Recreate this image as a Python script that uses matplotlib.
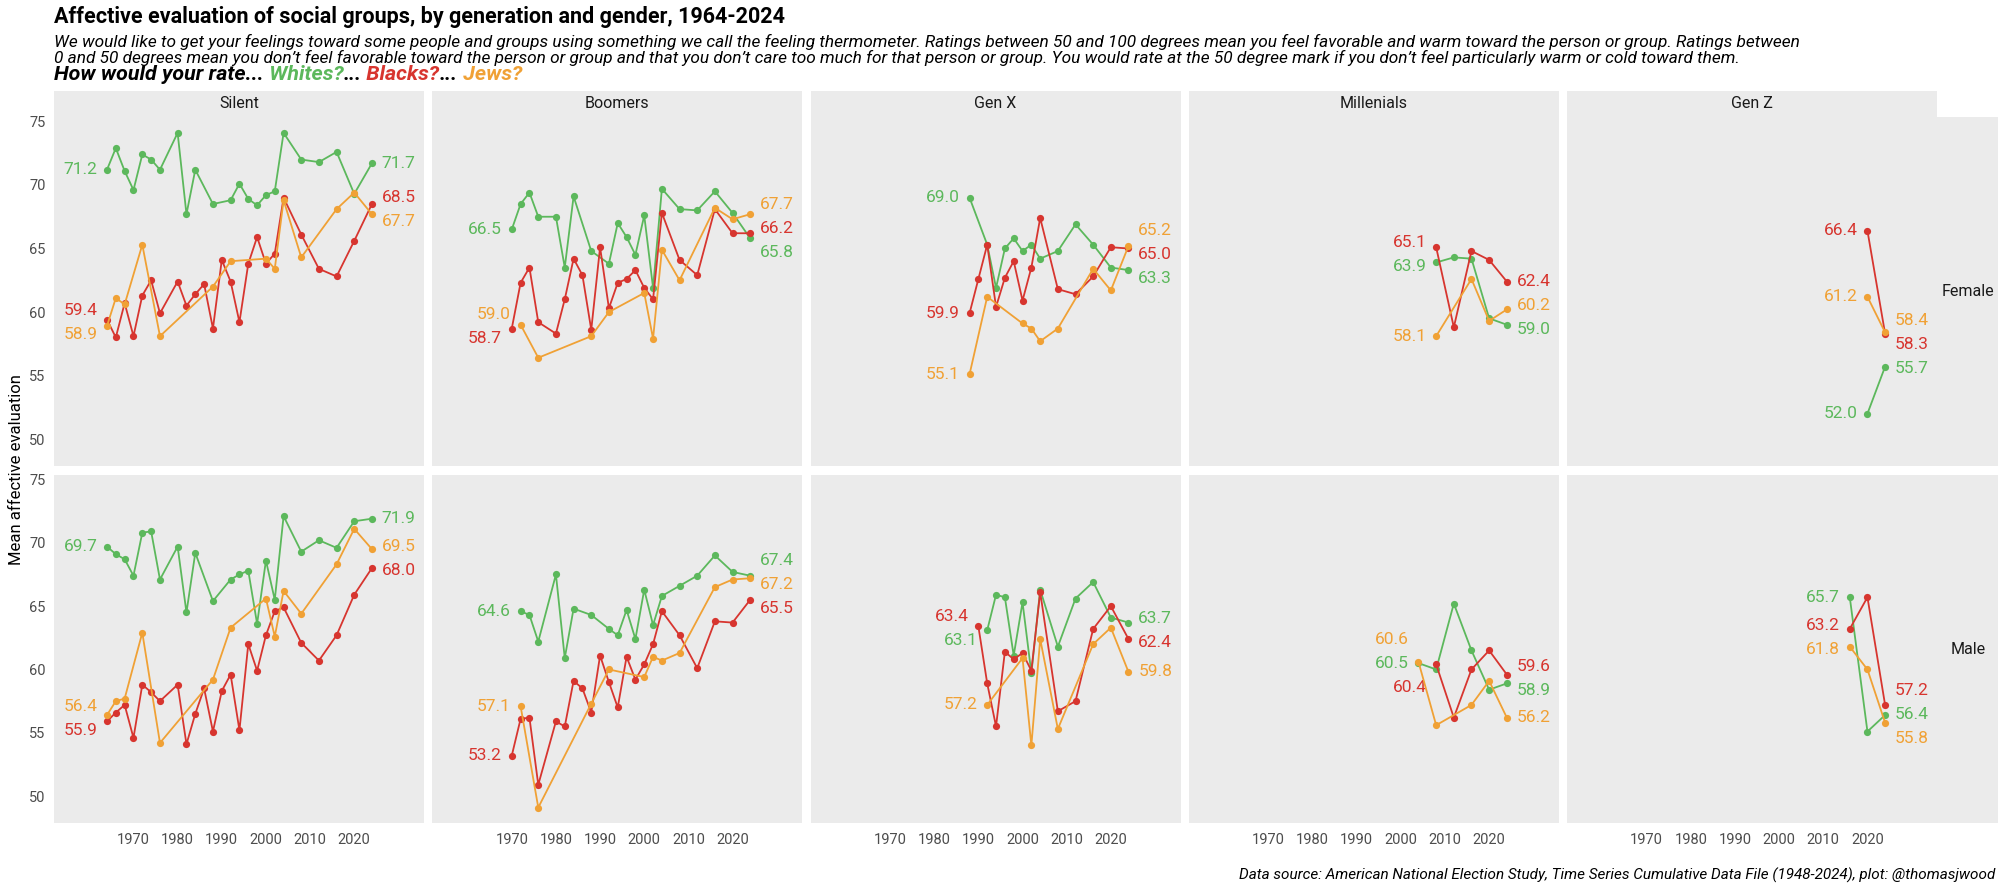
import matplotlib
matplotlib.use("Agg")
import matplotlib.pyplot as plt
from matplotlib.patches import Rectangle

plt.rcParams['font.family'] = ["Roboto", "DejaVu Sans"]

# ---------------- data ----------------
generations = ["Silent", "Boomers", "Gen X", "Millenials", "Gen Z"]
genders = ["Female", "Male"]
groups = ["Whites", "Blacks", "Jews"]
group_colors = ["#5cb85c", "#d7352f", "#f0a135"]
x_ticks = [1970, 1980, 1990, 2000, 2010, 2020]
y_ticks = [50, 55, 60, 65, 70, 75]

# Silent
silent_w_years = [1964, 1966, 1968, 1970, 1972, 1974, 1976, 1980, 1982, 1984, 1988, 1992,
                  1994, 1996, 1998, 2000, 2002, 2004, 2008, 2012, 2016, 2020, 2024]
silent_b_years = [1964, 1966, 1968, 1970, 1972, 1974, 1976, 1980, 1982, 1984, 1986, 1988, 1990,
                  1992, 1994, 1996, 1998, 2000, 2002, 2004, 2008, 2012, 2016, 2020, 2024]
silent_j_years = [1964, 1966, 1968, 1972, 1976, 1988, 1992, 2000, 2002, 2004, 2008, 2016, 2020, 2024]
silent_f_whites = [71.2, 72.9, 71.1, 69.6, 72.4, 72.0, 71.2, 74.1, 67.7, 71.2, 68.5, 68.8,
                   70.1, 68.9, 68.4, 69.2, 69.5, 74.1, 72.0, 71.8, 72.6, 69.3, 71.7]
silent_f_blacks = [59.4, 58.0, 60.7, 58.1, 61.3, 62.5, 59.9, 62.4, 60.5, 61.4, 62.2, 58.7, 64.1,
                   62.4, 59.2, 63.8, 65.9, 63.8, 64.6, 69.0, 66.1, 63.4, 62.8, 65.6, 68.5]
silent_f_jews = [58.9, 61.1, 60.6, 65.3, 58.1, 62.0, 64.0, 64.2, 63.4, 68.8, 64.3, 68.1, 69.4, 67.7]
silent_m_whites = [69.7, 69.1, 68.7, 67.4, 70.8, 70.9, 67.1, 69.7, 64.5, 69.2, 65.4, 67.1,
                   67.5, 67.8, 63.6, 68.6, 65.5, 72.1, 69.3, 70.2, 69.6, 71.7, 71.9]
silent_m_blacks = [55.9, 56.6, 57.2, 54.6, 58.8, 58.2, 57.5, 58.8, 54.1, 56.5, 58.5, 55.1, 58.3,
                   59.6, 55.2, 62.0, 59.9, 62.7, 64.6, 64.9, 62.1, 60.7, 62.7, 65.9, 68.0]
silent_m_jews = [56.4, 57.5, 57.7, 62.9, 54.2, 59.2, 63.3, 65.6, 62.6, 66.2, 64.4, 68.3, 71.1, 69.5]

# Boomers
boomers_f_w_years = [1970, 1972, 1974, 1976, 1980, 1982, 1984, 1988, 1992, 1994, 1996, 1998,
                     2000, 2002, 2004, 2008, 2012, 2016, 2020, 2024]
boomers_m_w_years = [1972, 1974, 1976, 1980, 1982, 1984, 1988, 1992, 1994, 1996, 1998,
                     2000, 2002, 2004, 2008, 2012, 2016, 2020, 2024]
boomers_b_years = [1970, 1972, 1974, 1976, 1980, 1982, 1984, 1986, 1988, 1990, 1992, 1994,
                   1996, 1998, 2000, 2002, 2004, 2008, 2012, 2016, 2020, 2024]
boomers_j_years = [1972, 1976, 1988, 1992, 2000, 2002, 2004, 2008, 2016, 2020, 2024]
boomers_f_whites = [66.5, 68.5, 69.4, 67.5, 67.5, 63.5, 69.1, 64.8, 63.8, 67.0, 65.9, 64.5,
                    67.6, 61.9, 69.7, 68.1, 68.0, 69.5, 67.8, 65.8]
boomers_f_blacks = [58.7, 62.3, 63.5, 59.2, 58.3, 61.0, 64.2, 62.9, 58.6, 65.1, 60.3, 62.3,
                    62.6, 63.3, 61.9, 61.0, 67.8, 64.1, 62.9, 68.1, 66.2, 66.2]
boomers_f_jews = [59.0, 56.4, 58.1, 60.0, 61.5, 57.9, 64.9, 62.5, 68.2, 67.3, 67.7]
boomers_m_whites = [64.6, 64.3, 62.2, 67.5, 60.9, 64.8, 64.3, 63.2, 62.7, 64.7, 62.4,
                    66.3, 63.5, 65.8, 66.6, 67.4, 69.0, 67.7, 67.4]
boomers_m_blacks = [53.2, 56.1, 56.2, 50.9, 55.9, 55.5, 59.1, 58.5, 56.6, 61.1, 59.0, 57.0,
                    61.0, 59.2, 60.4, 62.0, 64.6, 62.7, 60.1, 63.8, 63.7, 65.5]
boomers_m_jews = [57.1, 49.1, 57.3, 60.0, 59.4, 61.0, 60.7, 61.3, 66.5, 67.1, 67.2]

# Gen X
genx_f_w_years = [1988, 1992, 1994, 1996, 1998, 2000, 2002, 2004, 2008, 2012, 2016, 2020, 2024]
genx_f_b_years = [1988, 1990, 1992, 1994, 1996, 1998, 2000, 2002, 2004, 2008, 2012, 2016, 2020, 2024]
genx_f_j_years = [1988, 1992, 2000, 2002, 2004, 2008, 2016, 2020, 2024]
genx_m_w_years = [1992, 1994, 1996, 1998, 2000, 2002, 2004, 2008, 2012, 2016, 2020, 2024]
genx_m_b_years = [1990, 1992, 1994, 1996, 1998, 2000, 2002, 2004, 2008, 2012, 2016, 2020, 2024]
genx_m_j_years = [1992, 2000, 2002, 2004, 2008, 2016, 2020, 2024]
genx_f_whites = [69.0, 65.3, 61.9, 65.0, 65.8, 64.8, 65.3, 64.2, 64.8, 66.9, 65.3, 63.5, 63.3]
genx_f_blacks = [59.9, 62.6, 65.3, 60.4, 62.7, 64.0, 60.9, 63.5, 67.4, 61.8, 61.4, 62.8, 65.1, 65.0]
genx_f_jews = [55.1, 61.2, 59.1, 58.7, 57.7, 58.7, 63.4, 61.7, 65.2]
genx_m_whites = [63.1, 65.9, 65.7, 61.1, 65.3, 59.7, 66.3, 61.8, 65.6, 66.9, 64.1, 63.7]
genx_m_blacks = [63.4, 58.9, 55.5, 61.4, 60.8, 61.3, 59.9, 66.1, 56.7, 57.5, 63.2, 65.0, 62.4]
genx_m_jews = [57.2, 60.9, 54.0, 62.4, 55.3, 62.0, 63.3, 59.8]

# Millenials
mill_f_wb_years = [2008, 2012, 2016, 2020, 2024]
mill_f_j_years = [2008, 2016, 2020, 2024]
mill_m_w_years = [2004, 2008, 2012, 2016, 2020, 2024]
mill_m_b_years = [2008, 2012, 2016, 2020, 2024]
mill_m_j_years = [2004, 2008, 2016, 2020, 2024]
mill_f_whites = [63.9, 64.3, 64.2, 59.5, 59.0]
mill_f_blacks = [65.1, 58.8, 64.8, 64.1, 62.4]
mill_f_jews = [58.1, 62.6, 59.3, 60.2]
mill_m_whites = [60.5, 60.0, 65.2, 61.5, 58.4, 58.9]
mill_m_blacks = [60.4, 56.2, 60.0, 61.5, 59.6]
mill_m_jews = [60.6, 55.6, 57.2, 59.1, 56.2]

# Gen Z
genz_f_years = [2020, 2024]
genz_m_years = [2016, 2020, 2024]
genz_f_whites = [52.0, 55.7]
genz_f_blacks = [66.4, 58.3]
genz_f_jews = [61.2, 58.4]
genz_m_whites = [65.7, 55.1, 56.4]
genz_m_blacks = [63.2, 65.7, 57.2]
genz_m_jews = [61.8, 60.0, 55.8]

series = {
    ("Silent", "Female"): [(silent_w_years, silent_f_whites), (silent_b_years, silent_f_blacks), (silent_j_years, silent_f_jews)],
    ("Silent", "Male"): [(silent_w_years, silent_m_whites), (silent_b_years, silent_m_blacks), (silent_j_years, silent_m_jews)],
    ("Boomers", "Female"): [(boomers_f_w_years, boomers_f_whites), (boomers_b_years, boomers_f_blacks), (boomers_j_years, boomers_f_jews)],
    ("Boomers", "Male"): [(boomers_m_w_years, boomers_m_whites), (boomers_b_years, boomers_m_blacks), (boomers_j_years, boomers_m_jews)],
    ("Gen X", "Female"): [(genx_f_w_years, genx_f_whites), (genx_f_b_years, genx_f_blacks), (genx_f_j_years, genx_f_jews)],
    ("Gen X", "Male"): [(genx_m_w_years, genx_m_whites), (genx_m_b_years, genx_m_blacks), (genx_m_j_years, genx_m_jews)],
    ("Millenials", "Female"): [(mill_f_wb_years, mill_f_whites), (mill_f_wb_years, mill_f_blacks), (mill_f_j_years, mill_f_jews)],
    ("Millenials", "Male"): [(mill_m_w_years, mill_m_whites), (mill_m_b_years, mill_m_blacks), (mill_m_j_years, mill_m_jews)],
    ("Gen Z", "Female"): [(genz_f_years, genz_f_whites), (genz_f_years, genz_f_blacks), (genz_f_years, genz_f_jews)],
    ("Gen Z", "Male"): [(genz_m_years, genz_m_whites), (genz_m_years, genz_m_blacks), (genz_m_years, genz_m_jews)],
}

title = "Affective evaluation of social groups, by generation and gender, 1964-2024"
subtitle1 = ("We would like to get your feelings toward some people and groups using something we call the "
             "feeling thermometer. Ratings between 50 and 100 degrees mean you feel favorable and warm toward "
             "the person or group. Ratings between")
subtitle2 = ("0 and 50 degrees mean you don\u2019t feel favorable toward the person or group and that you don\u2019t "
             "care too much for that person or group. You would rate at the 50 degree mark if you don\u2019t feel "
             "particularly warm or cold toward them.")
question = [("How would your rate...", "#000000"), (" Whites?", group_colors[0]), ("...", "#000000"),
            (" Blacks?", group_colors[1]), ("...", "#000000"), (" Jews?", group_colors[2])]
caption = "Data source: American National Election Study, Time Series Cumulative Data File (1948-2024), plot: @thomasjwood"
ylabel = "Mean affective evaluation"


def repel(vals, gap=1.9):
    idx = sorted(range(len(vals)), key=lambda i: vals[i])
    y = [vals[i] for i in idx]
    for _ in range(200):
        moved = False
        for k in range(len(y) - 1):
            d = y[k + 1] - y[k]
            if d < gap - 1e-9:
                s = (gap - d) / 2
                y[k] -= s
                y[k + 1] += s
                moved = True
        if not moved:
            break
    out = [0.0] * len(vals)
    for k, i in enumerate(idx):
        out[i] = y[k]
    return out


# ---------------- layout ----------------
W, H = 2000, 886
fig = plt.figure(figsize=(W / 100, H / 100), dpi=100)
BG = "#ebebeb"
col_left = [54 + i * 378.3 for i in range(5)]
panel_w = 370
rows = [(117, 466), (475, 823)]
XLIM = (1952, 2035.8)
YLIM = (47.88, 75.35)

for r, gender in enumerate(genders):
    top, bot = rows[r]
    ph = bot - top
    for c, gen in enumerate(generations):
        ax = fig.add_axes([col_left[c] / W, 1 - bot / H, panel_w / W, ph / H])
        ax.set_facecolor(BG)
        for s in ax.spines.values():
            s.set_visible(False)
        ax.set_xlim(*XLIM)
        ax.set_ylim(*YLIM)
        ax.set_xticks(x_ticks)
        ax.set_yticks(y_ticks)
        ax.tick_params(length=0, labelsize=10.5, labelcolor="#4d4d4d", pad=6)
        ax.tick_params(axis="x", pad=7)
        if c != 0:
            ax.set_yticklabels([])
        if r != 1:
            ax.set_xticklabels([])

        data = series[(gen, gender)]
        for g, (yrs, vals) in enumerate(data):
            ax.plot(yrs, vals, color=group_colors[g], lw=1.3, marker="o", ms=5.2,
                    mew=0, zorder=3 + g)
        # labels
        left_y = repel([d[1][0] for d in data])
        right_y = repel([d[1][-1] for d in data])
        for g, (yrs, vals) in enumerate(data):
            ax.text(yrs[0] - 2.2, left_y[g], f"{vals[0]:.1f}", ha="right", va="center",
                    color=group_colors[g], fontsize=12.5)
            ax.text(yrs[-1] + 2.2, right_y[g], f"{vals[-1]:.1f}", ha="left", va="center",
                    color=group_colors[g], fontsize=12.5)

        if r == 0:
            sh = 26 / ph
            ax.add_patch(Rectangle((0, 1), 1, sh, transform=ax.transAxes, clip_on=False,
                                   facecolor=BG, lw=0))
            ax.text(0.5, 1 + sh / 2, gen, transform=ax.transAxes, ha="center", va="center",
                    fontsize=11.5, color="#1a1a1a")
        if c == 4:
            sw = 61 / panel_w
            ax.add_patch(Rectangle((1, 0), sw, 1, transform=ax.transAxes, clip_on=False,
                                   facecolor=BG, lw=0))
            ax.text(1 + sw / 2, 0.5, gender, transform=ax.transAxes, ha="center", va="center",
                    fontsize=11.5, color="#1a1a1a")

# titles
fig.text(54 / W, 1 - 22.5 / H, title, fontsize=15.5, fontweight="bold", va="baseline", ha="left")
fig.text(54 / W, 1 - 46.5 / H, subtitle1, fontsize=12.4, fontstyle="italic", va="baseline", ha="left")
fig.text(54 / W, 1 - 62.5 / H, subtitle2, fontsize=12.4, fontstyle="italic", va="baseline", ha="left")
renderer = fig.canvas.get_renderer()
x = 54
for s, col in question:
    t = fig.text(x / W, 1 - 80.5 / H, s, fontsize=15.4, fontweight="bold", fontstyle="italic",
                 va="baseline", ha="left", color=col)
    bb = t.get_window_extent(renderer)
    x = bb.x1

fig.text(17 / W, 1 - 470 / H, ylabel, rotation=90, ha="center", va="center", fontsize=12)
fig.text(1995 / W, 1 - 875 / H, caption, ha="right", va="center", fontsize=11, fontstyle="italic")

fig.savefig("out.png", dpi=100)
